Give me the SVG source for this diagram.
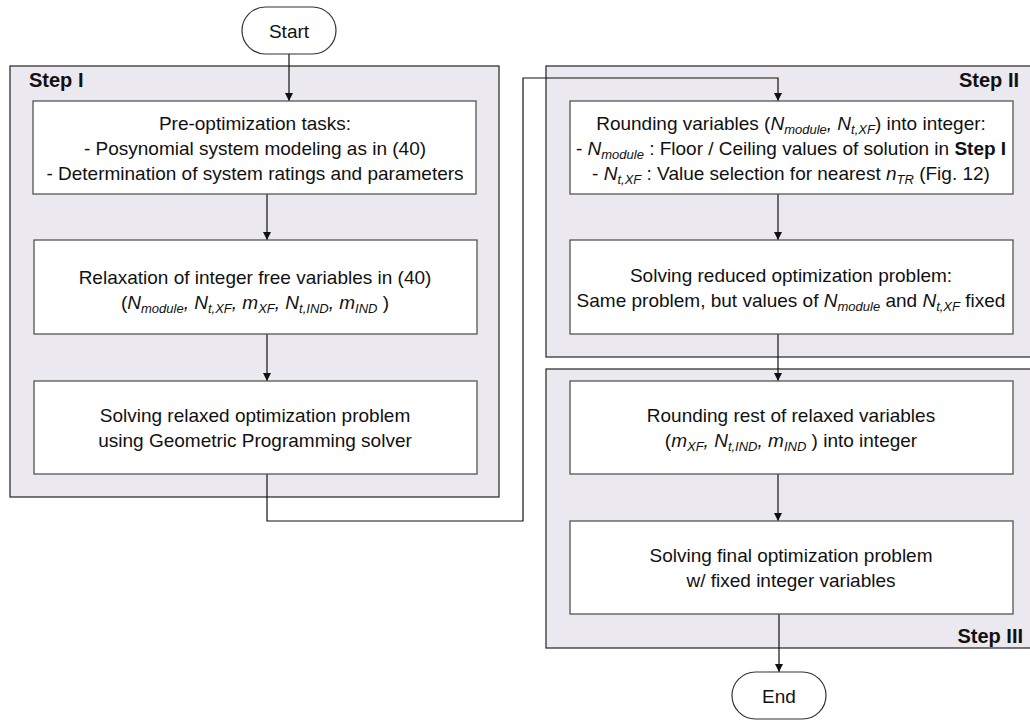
<svg xmlns="http://www.w3.org/2000/svg" width="1030" height="720" viewBox="0 0 1030 720">
<style>
text{font-family:"Liberation Sans",Arial,sans-serif;font-size:19px;fill:#111;}
.c{text-anchor:middle;}
.i{font-style:italic;}
.s{font-size:13px;font-style:italic;}
.b{font-weight:bold;}
.lbl{font-weight:bold;font-size:20px;}
.grp{fill:#EBE8EF;stroke:#333;stroke-width:1.3;}
.box{fill:#fff;stroke:#555;stroke-width:1.3;}
.term{fill:#fff;stroke:#333;stroke-width:1.2;}
.ln{fill:none;stroke:#111;stroke-width:1.2;}
</style>
<defs>
<marker id="ah" viewBox="0 0 10 10" refX="10" refY="5" markerWidth="8" markerHeight="11" orient="auto" markerUnits="userSpaceOnUse">
<path d="M0,0 L10,5 L0,10 z" fill="#111"/>
</marker>
</defs>

<g id="step1">
<rect class="grp" x="10" y="66" width="489" height="431"/>
<text class="lbl" x="29" y="87">Step I</text>
</g>
<g id="step2">
<rect class="grp" x="546" y="66" width="490" height="291"/>
<text class="lbl" x="1019" y="87" text-anchor="end">Step II</text>
</g>
<g id="step3">
<rect class="grp" x="546" y="369" width="490" height="279"/>
<text class="lbl" x="1023" y="643" text-anchor="end">Step III</text>
</g>

<g id="connectors">
<path class="ln" d="M289,54 V101" marker-end="url(#ah)"/>
<path class="ln" d="M267,194 V240" marker-end="url(#ah)"/>
<path class="ln" d="M267,334 V381" marker-end="url(#ah)"/>
<path class="ln" d="M267,474 V521 H523 V78 H778 V101" marker-end="url(#ah)"/>
<path class="ln" d="M778,194 V240" marker-end="url(#ah)"/>
<path class="ln" d="M778,334 V381" marker-end="url(#ah)"/>
<path class="ln" d="M778,474 V521" marker-end="url(#ah)"/>
<path class="ln" d="M779,614 V672" marker-end="url(#ah)"/>
</g>

<g id="start">
<rect class="term" x="242" y="7" width="94" height="47" rx="23.5"/>
<text class="c" x="289" y="38">Start</text>
</g>

<g id="box1">
<rect class="box" x="33" y="101" width="443" height="93"/>
<text class="c" x="255" y="130">Pre-optimization tasks:</text>
<text class="c" x="255" y="155">- Posynomial system modeling as in (40)</text>
<text class="c" x="255" y="180">- Determination of system ratings and parameters</text>
</g>

<g id="box2">
<rect class="box" x="34" y="240" width="443" height="94"/>
<text class="c" x="255" y="284">Relaxation of integer free variables in (40)</text>
<text class="c" x="255" y="309">(<tspan class="i">N</tspan><tspan class="s" dy="4">module</tspan><tspan class="i" dy="-4">, N</tspan><tspan class="s" dy="4">t,XF</tspan><tspan class="i" dy="-4">, m</tspan><tspan class="s" dy="4">XF</tspan><tspan class="i" dy="-4">, N</tspan><tspan class="s" dy="4">t,IND</tspan><tspan class="i" dy="-4">, m</tspan><tspan class="s" dy="4">IND</tspan><tspan dy="-4"> )</tspan></text>
</g>

<g id="box3">
<rect class="box" x="34" y="381" width="443" height="93"/>
<text class="c" x="255" y="422">Solving relaxed optimization problem</text>
<text class="c" x="255" y="447">using Geometric Programming solver</text>
</g>

<g id="box4">
<rect class="box" x="570" y="101" width="443" height="93"/>
<text class="c" x="791" y="130">Rounding variables (<tspan class="i">N</tspan><tspan class="s" dy="4">module</tspan><tspan class="i" dy="-4">, N</tspan><tspan class="s" dy="4">t,XF</tspan><tspan dy="-4">) into integer:</tspan></text>
<text class="c" x="791" y="155">- <tspan class="i">N</tspan><tspan class="s" dy="4">module</tspan><tspan dy="-4"> : Floor / Ceiling values of solution in </tspan><tspan class="b">Step I</tspan></text>
<text class="c" x="791" y="180">- <tspan class="i">N</tspan><tspan class="s" dy="4">t,XF</tspan><tspan dy="-4"> : Value selection for nearest </tspan><tspan class="i">n</tspan><tspan class="s" dy="4">TR</tspan><tspan dy="-4"> (Fig. 12)</tspan></text>
</g>

<g id="box5">
<rect class="box" x="570" y="240" width="443" height="94"/>
<text class="c" x="791" y="282">Solving reduced optimization problem:</text>
<text class="c" x="791" y="307">Same problem, but values of <tspan class="i">N</tspan><tspan class="s" dy="4">module</tspan><tspan dy="-4"> and </tspan><tspan class="i">N</tspan><tspan class="s" dy="4">t,XF</tspan><tspan dy="-4">  fixed</tspan></text>
</g>

<g id="box6">
<rect class="box" x="570" y="381" width="443" height="93"/>
<text class="c" x="791" y="422">Rounding rest of relaxed variables</text>
<text class="c" x="791" y="447">(<tspan class="i">m</tspan><tspan class="s" dy="4">XF</tspan><tspan class="i" dy="-4">, N</tspan><tspan class="s" dy="4">t,IND</tspan><tspan class="i" dy="-4">, m</tspan><tspan class="s" dy="4">IND</tspan><tspan dy="-4"> ) into integer</tspan></text>
</g>

<g id="box7">
<rect class="box" x="570" y="521" width="443" height="93"/>
<text class="c" x="791" y="562">Solving final optimization problem</text>
<text class="c" x="791" y="587">w/ fixed integer variables</text>
</g>

<g id="end">
<rect class="term" x="732" y="672" width="94" height="47" rx="23.5"/>
<text class="c" x="779" y="703">End</text>
</g>
</svg>
